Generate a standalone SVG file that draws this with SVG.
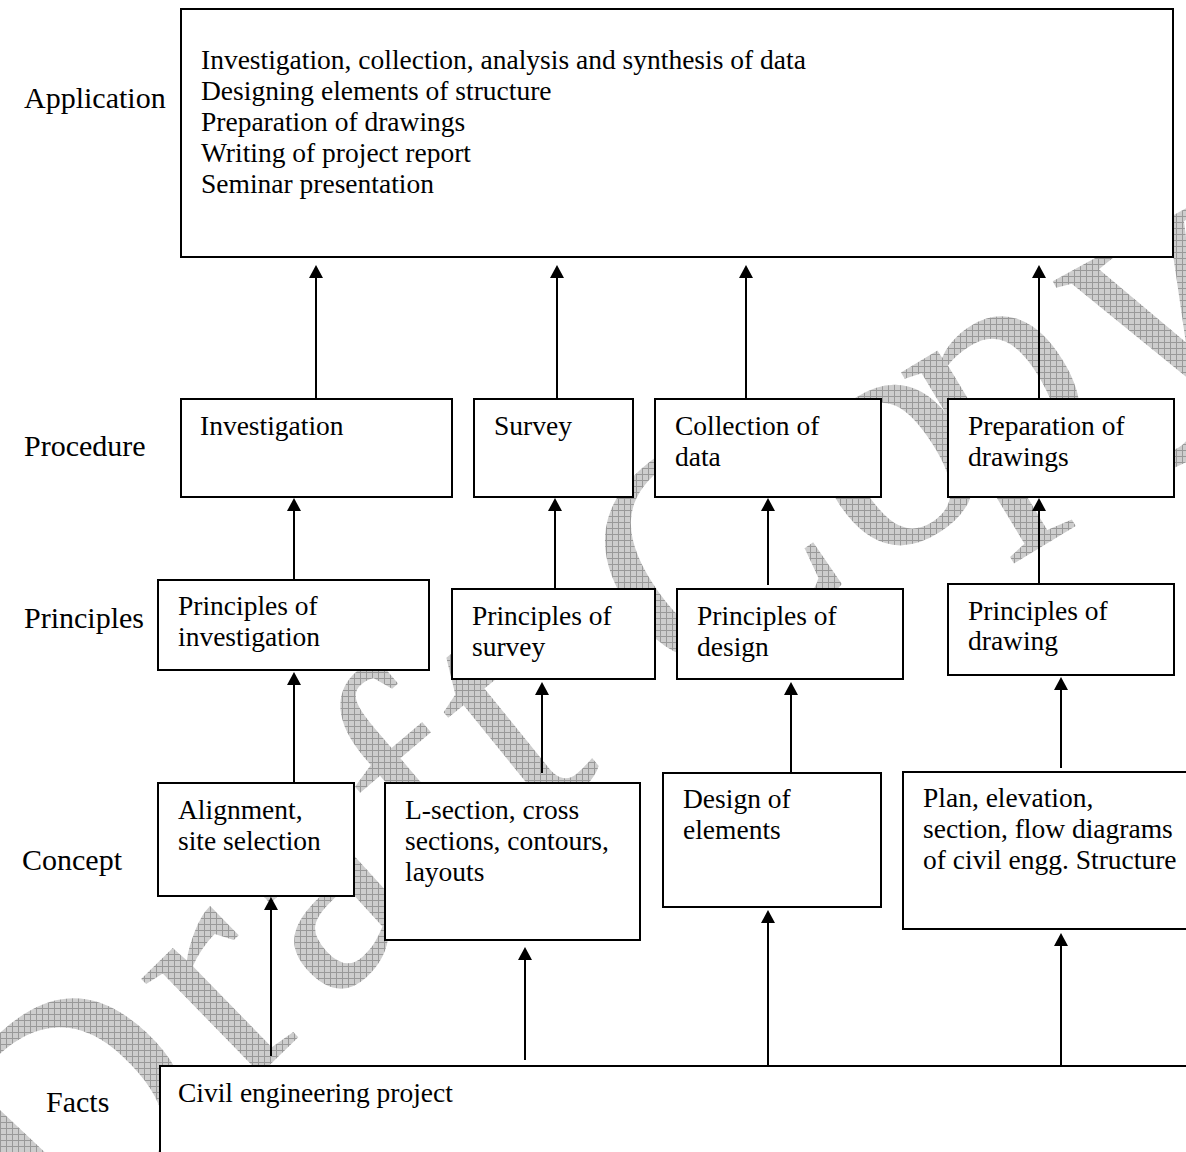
<svg xmlns="http://www.w3.org/2000/svg" width="1186" height="1152" viewBox="0 0 1186 1152">
<style>
.box{fill:#fff;stroke:#000;stroke-width:2}
.t{font-family:"Liberation Serif","Times New Roman",serif;font-size:27.5px;fill:#000}
.lab{font-family:"Liberation Serif","Times New Roman",serif;font-size:30px;fill:#000}
.con line{stroke:#000;stroke-width:2;marker-end:url(#ah)}
.wm{font-family:"Liberation Serif","Times New Roman",serif;font-size:330px;letter-spacing:9px;fill:url(#grid)}
</style>
<defs>
<pattern id="grid" width="6" height="6" patternUnits="userSpaceOnUse">
<rect width="6" height="6" fill="#cdcdcd"/>
<path d="M0 0.5H6M0.5 0V6" stroke="#999" stroke-width="1"/>
</pattern>
<marker id="ah" markerWidth="14" markerHeight="14" refX="0" refY="7" orient="auto" markerUnits="userSpaceOnUse">
<path d="M0,0 L13,7 L0,14 z" fill="#000"/>
</marker>
<path id="arc" d="M 40 1310 A 4214 4214 0 0 1 1360 290"/>
</defs>
<rect width="1186" height="1152" fill="#fff"/>
<g id="watermark">
<text class="wm"><textPath href="#arc" startOffset="50">Draft Co<tspan dx="-50">py</tspan></textPath></text>
</g>
<g id="labels">
<text class="lab" x="24" y="108">Application</text>
<text class="lab" x="24" y="456">Procedure</text>
<text class="lab" x="24" y="628">Principles</text>
<text class="lab" x="22" y="870">Concept</text>
<text class="lab" x="46" y="1112">Facts</text>
</g>
<g id="application">
<rect class="box" x="181" y="9" width="992" height="248"/>
<text class="t" x="201"><tspan x="201" y="69">Investigation, collection, analysis and synthesis of data</tspan><tspan x="201" y="100">Designing elements of structure</tspan><tspan x="201" y="131">Preparation of drawings</tspan><tspan x="201" y="162">Writing of project report</tspan><tspan x="201" y="193">Seminar presentation</tspan></text>
</g>
<g id="proc-investigation">
<rect class="box" x="181" y="399" width="271" height="98"/>
<text class="t" x="200" y="435">Investigation</text>
</g>
<g id="proc-survey">
<rect class="box" x="474" y="399" width="159" height="98"/>
<text class="t" x="494" y="435">Survey</text>
</g>
<g id="proc-collection">
<rect class="box" x="655" y="399" width="226" height="98"/>
<text class="t"><tspan x="675" y="435">Collection of</tspan><tspan x="675" y="466">data</tspan></text>
</g>
<g id="proc-preparation">
<rect class="box" x="948" y="399" width="226" height="98"/>
<text class="t"><tspan x="968" y="435">Preparation of</tspan><tspan x="968" y="466">drawings</tspan></text>
</g>
<g id="prin-investigation">
<rect class="box" x="158" y="580" width="271" height="90"/>
<text class="t"><tspan x="178" y="615">Principles of</tspan><tspan x="178" y="646">investigation</tspan></text>
</g>
<g id="prin-survey">
<rect class="box" x="452" y="589" width="203" height="90"/>
<text class="t"><tspan x="472" y="625">Principles of</tspan><tspan x="472" y="656">survey</tspan></text>
</g>
<g id="prin-design">
<rect class="box" x="677" y="589" width="226" height="90"/>
<text class="t"><tspan x="697" y="625">Principles of</tspan><tspan x="697" y="656">design</tspan></text>
</g>
<g id="prin-drawing">
<rect class="box" x="948" y="584" width="226" height="91"/>
<text class="t"><tspan x="968" y="620">Principles of</tspan><tspan x="968" y="650">drawing</tspan></text>
</g>
<g id="con-alignment">
<rect class="box" x="158" y="783" width="196" height="113"/>
<text class="t"><tspan x="178" y="819">Alignment,</tspan><tspan x="178" y="850">site selection</tspan></text>
</g>
<g id="con-lsection">
<rect class="box" x="385" y="783" width="255" height="157"/>
<text class="t"><tspan x="405" y="819">L-section, cross</tspan><tspan x="405" y="850">sections, contours,</tspan><tspan x="405" y="881">layouts</tspan></text>
</g>
<g id="con-design">
<rect class="box" x="663" y="773" width="218" height="134"/>
<text class="t"><tspan x="683" y="808">Design of</tspan><tspan x="683" y="839">elements</tspan></text>
</g>
<g id="con-plan">
<rect class="box" x="903" y="772" width="300" height="157"/>
<text class="t"><tspan x="923" y="807">Plan, elevation,</tspan><tspan x="923" y="838">section, flow diagrams</tspan><tspan x="923" y="869">of civil engg. Structure</tspan></text>
</g>
<g id="facts">
<rect class="box" x="160" y="1066" width="1050" height="120"/>
<text class="t" x="178" y="1102">Civil engineering project</text>
</g>
<g id="connectors" class="con">
<line x1="316" y1="399" x2="316" y2="278"/>
<line x1="557" y1="399" x2="557" y2="278"/>
<line x1="746" y1="399" x2="746" y2="278"/>
<line x1="1039" y1="399" x2="1039" y2="278"/>
<line x1="294" y1="580" x2="294" y2="511"/>
<line x1="555" y1="589" x2="555" y2="511"/>
<line x1="768" y1="585" x2="768" y2="511"/>
<line x1="1039" y1="584" x2="1039" y2="511"/>
<line x1="294" y1="783" x2="294" y2="685"/>
<line x1="542" y1="773" x2="542" y2="695"/>
<line x1="791" y1="773" x2="791" y2="695"/>
<line x1="1061" y1="768" x2="1061" y2="690"/>
<line x1="271" y1="1056" x2="271" y2="910"/>
<line x1="525" y1="1060" x2="525" y2="960"/>
<line x1="768" y1="1066" x2="768" y2="923"/>
<line x1="1061" y1="1066" x2="1061" y2="946"/>
</g>
</svg>
